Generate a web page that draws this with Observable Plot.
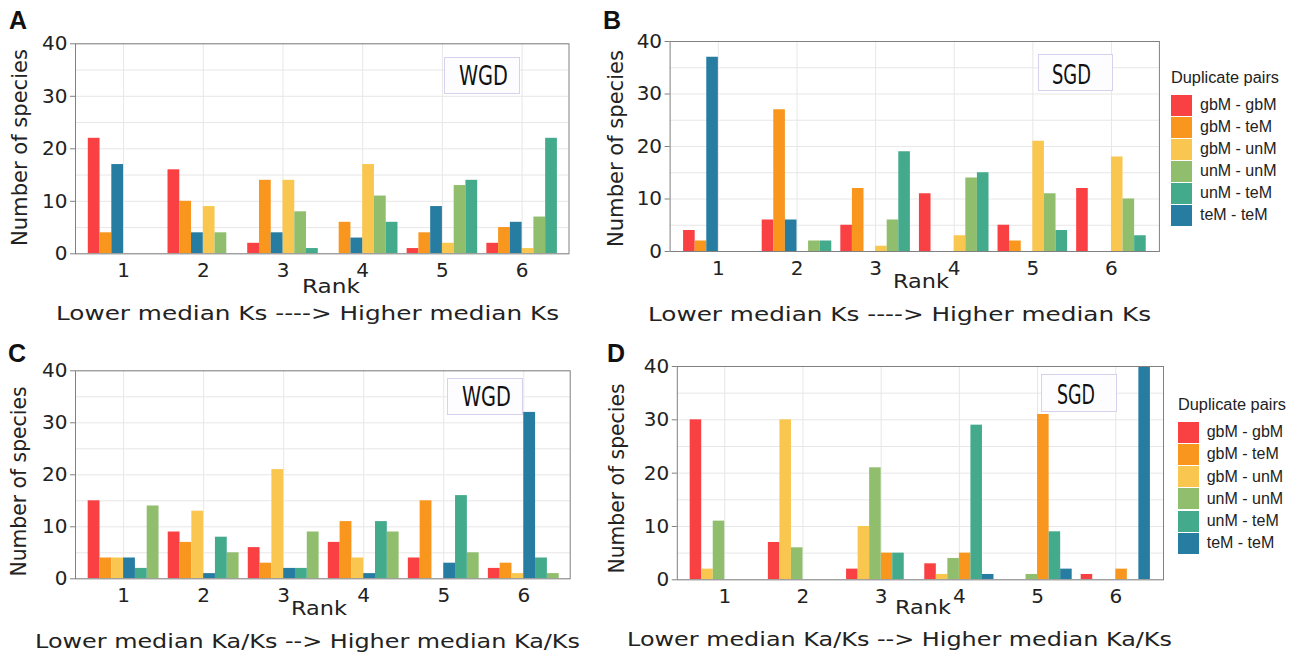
<!DOCTYPE html>
<html><head><meta charset="utf-8">
<script src="https://cdn.jsdelivr.net/npm/d3@7"></script>
<script src="https://cdn.jsdelivr.net/npm/@observablehq/plot@0.6"></script>
<style>
html,body{margin:0;padding:0;background:#fff;}
#root{position:relative;width:1301px;height:653px;overflow:hidden;background:#fff;}
.panel{position:absolute;}
.panel svg{background:transparent !important;max-width:none !important;display:block;}
.t{position:absolute;white-space:nowrap;line-height:1;transform-origin:0 0;}
.box{position:absolute;border:1px solid #d8d1ee;background:#fdfdff;box-sizing:border-box;}
.sw{position:absolute;}
</style></head><body><div id="root"></div>
<script>
// ---- data ----
const ranks = [1, 2, 3, 4, 5, 6];
const yTicks = [0, 10, 20, 30, 40];
const yGrid = [0, 5, 10, 15, 20, 25, 30, 35, 40];
const seriesNames = ["gbM - gbM", "gbM - teM", "gbM - unM", "unM - unM", "unM - teM", "teM - teM"];
const seriesColors = ["#f94144", "#f8961e", "#f9c74f", "#90be6d", "#43aa8b", "#277da1"];

// bar order inside each rank group
const orderKs = ["gbM - gbM", "gbM - teM", "teM - teM", "gbM - unM", "unM - unM", "unM - teM"];
const orderKaKsWGD = ["gbM - gbM", "gbM - teM", "gbM - unM", "teM - teM", "unM - teM", "unM - unM"];
const orderKaKsSGD = ["gbM - gbM", "gbM - unM", "unM - unM", "gbM - teM", "unM - teM", "teM - teM"];

// rows follow seriesNames, columns follow ranks
const valuesA = [
  [22, 16, 2, 0, 1, 2],
  [4, 10, 14, 6, 4, 5],
  [0, 9, 14, 17, 2, 1],
  [0, 4, 8, 11, 13, 7],
  [0, 0, 1, 6, 14, 22],
  [17, 4, 4, 3, 9, 6]
];
const valuesB = [
  [4, 6, 5, 11, 5, 12],
  [2, 27, 12, 0, 2, 0],
  [0, 0, 1, 3, 21, 18],
  [0, 2, 6, 14, 11, 10],
  [0, 2, 19, 15, 4, 3],
  [37, 6, 0, 0, 0, 0]
];
const valuesC = [
  [15, 9, 6, 7, 4, 2],
  [4, 7, 3, 11, 15, 3],
  [4, 13, 21, 4, 0, 1],
  [14, 5, 9, 9, 5, 1],
  [2, 8, 2, 11, 16, 4],
  [4, 1, 2, 1, 3, 32]
];
const valuesD = [
  [30, 7, 2, 3, 0, 1],
  [0, 0, 5, 5, 31, 2],
  [2, 30, 10, 1, 0, 0],
  [11, 6, 21, 4, 1, 0],
  [0, 0, 5, 29, 9, 0],
  [0, 0, 0, 1, 2, 41]
];

const yLabel = "Number of species";
const xLabel = "Rank";
const captionKs = "Lower median Ks ----> Higher median Ks";
const captionKaKs = "Lower median Ka/Ks --> Higher median Ka/Ks";
const legendTitle = "Duplicate pairs";

// ---- drawing ----
const root = document.getElementById("root");
const sansV = "'DejaVu Sans', Verdana, sans-serif";
const sansA = "'Liberation Sans', Arial, sans-serif";
const narrow = "'Liberation Sans Narrow', 'DejaVu Sans Condensed', 'Liberation Sans', sans-serif";
const groupWidth = 0.885;

function makePanel(values, order, o) {
  const barW = groupWidth / order.length;
  const rows = [];
  seriesNames.forEach((s, si) => {
    const slot = order.indexOf(s);
    ranks.forEach((r, ri) => rows.push({rank: r, series: s, slot, value: values[si][ri]}));
  });
  const plot = Plot.plot({
    width: o.w, height: o.h,
    marginLeft: o.ml, marginRight: o.mr, marginTop: o.mt, marginBottom: o.mb,
    style: {fontFamily: sansV, fontSize: "20px", color: "#222", background: "transparent"},
    x: {type: "linear", domain: o.xDomain},
    y: {domain: [0, 40]},
    color: {domain: seriesNames, range: seriesColors},
    marks: [
      Plot.gridX(ranks, {stroke: "#e7e7e7", strokeOpacity: 1}),
      Plot.gridY(yGrid, {stroke: "#e7e7e7", strokeOpacity: 1}),
      Plot.rect(rows, {
        x1: d => d.rank - groupWidth / 2 + d.slot * barW,
        x2: d => d.rank - groupWidth / 2 + (d.slot + 1) * barW,
        y1: () => 0, y2: "value", fill: "series", clip: true
      }),
      Plot.frame({stroke: "#808080"}),
      Plot.axisX(ranks, {tickSize: 0, tickPadding: 9, fontSize: 20, label: null}),
      Plot.axisY(yTicks, {tickSize: 5, tickPadding: 3, fontSize: 20, label: null, stroke: "#808080"})
    ]
  });
  const div = document.createElement("div");
  div.className = "panel";
  div.style.left = o.left + "px";
  div.style.top = o.top + "px";
  div.appendChild(plot);
  root.appendChild(div);
}

function addText(str, o) {
  const el = document.createElement("div");
  el.className = "t";
  el.textContent = str;
  el.style.fontFamily = o.family || sansV;
  el.style.fontSize = o.size + "px";
  el.style.fontWeight = o.weight || 400;
  el.style.color = o.color || "#222";
  root.appendChild(el);
  const r = el.getBoundingClientRect();
  const w = r.width, h = r.height;
  const sx = o.width ? o.width / w : 1;
  if (o.rotate) {
    el.style.left = (o.x - w / 2) + "px";
    el.style.top = (o.y - h / 2) + "px";
    el.style.transformOrigin = "50% 50%";
    el.style.transform = `rotate(-90deg) scaleX(${sx})`;
  } else {
    const left = o.anchor === "middle" ? o.x - w * sx / 2 : o.x;
    el.style.left = left + "px";
    el.style.top = (o.y - 0.846 * o.size) + "px";
    el.style.transform = `scaleX(${sx})`;
  }
  return el;
}

function addBox(label, x1, y1, x2, y2, tx, ty, tw) {
  const b = document.createElement("div");
  b.className = "box";
  Object.assign(b.style, {left: x1 + "px", top: y1 + "px", width: (x2 - x1) + "px", height: (y2 - y1) + "px"});
  root.appendChild(b);
  addText(label, {x: tx, y: ty, anchor: "middle", size: 26, family: narrow, width: tw, color: "#111"});
}

function addLegend(x, titleY, swTop, pitch, labelX) {
  addText(legendTitle, {x, y: titleY, size: 16, family: sansA, width: 108, color: "#222"});
  seriesNames.forEach((s, i) => {
    const sw = document.createElement("div");
    sw.className = "sw";
    Object.assign(sw.style, {left: x + "px", top: (swTop + i * pitch) + "px", width: "21px", height: "21px", background: seriesColors[i]});
    root.appendChild(sw);
    addText(s, {x: labelX, y: swTop + i * pitch + 16, size: 16, family: sansA, color: "#222"});
  });
}

// Panels
makePanel(valuesA, orderKs, {left: 0, top: 0, w: 600, h: 300, ml: 75, mr: 31.5, mt: 43.3, mb: 46.7, xDomain: [0.397, 6.588]});
makePanel(valuesB, orderKs, {left: 600, top: 0, w: 600, h: 300, ml: 69.6, mr: 41.1, mt: 41, mb: 49, xDomain: [0.386, 6.61]});
makePanel(valuesC, orderKaKsWGD, {left: 0, top: 325, w: 600, h: 300, ml: 75, mr: 30.3, mt: 45.3, mb: 46.7, xDomain: [0.399, 6.58]});
makePanel(valuesD, orderKaKsSGD, {left: 600, top: 325, w: 600, h: 300, ml: 76.8, mr: 37, mt: 41, mb: 45.7, xDomain: [0.393, 6.61]});

// Panel letters
addText("A", {x: 9, y: 29, size: 25, weight: 700, family: sansA, color: "#111"});
addText("B", {x: 603, y: 29, size: 25, weight: 700, family: sansA, color: "#111"});
addText("C", {x: 8, y: 362, size: 25, weight: 700, family: sansA, color: "#111"});
addText("D", {x: 607, y: 362, size: 25, weight: 700, family: sansA, color: "#111"});

// Axis titles
addText(yLabel, {x: 20, y: 147, size: 21, rotate: true, width: 197});
addText(yLabel, {x: 616, y: 148, size: 21, rotate: true, width: 197});
addText(yLabel, {x: 19.5, y: 481, size: 21, rotate: true, width: 190});
addText(yLabel, {x: 617, y: 478, size: 21, rotate: true, width: 190});

addText(xLabel, {x: 331, y: 293, size: 20, anchor: "middle", width: 58});
addText(xLabel, {x: 920.5, y: 288, size: 20, anchor: "middle", width: 56});
addText(xLabel, {x: 318.5, y: 614.5, size: 20, anchor: "middle", width: 56});
addText(xLabel, {x: 922.5, y: 613.5, size: 20, anchor: "middle", width: 56});

addText(captionKs, {x: 55.5, y: 319.5, size: 20, width: 503});
addText(captionKs, {x: 648, y: 321, size: 20, width: 503});
addText(captionKaKs, {x: 34.5, y: 647.5, size: 20, width: 545});
addText(captionKaKs, {x: 627, y: 645.5, size: 20, width: 545});

// WGD / SGD boxes
addBox("WGD", 444, 57, 520, 94, 483, 85, 49);
addBox("SGD", 1037.5, 53.5, 1112.5, 91, 1071.5, 83.5, 39);
addBox("WGD", 447, 377.5, 522.5, 414.5, 486.8, 406, 49);
addBox("SGD", 1041, 374, 1117, 411.7, 1075.5, 403.5, 38);

// Legends
addLegend(1171, 84, 95, 22, 1200);
addLegend(1178.3, 410.7, 421.7, 22.2, 1206.7);
</script></body></html>
